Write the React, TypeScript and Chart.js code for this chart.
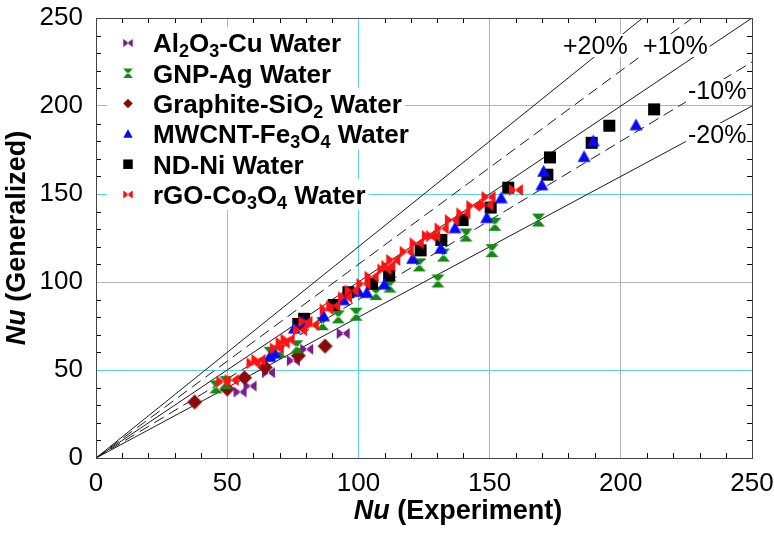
import { useEffect, useRef } from 'react';
import { Chart, registerables } from 'chart.js';

Chart.register(...registerables);

const FONT = '"Liberation Sans", Arial, Helvetica, sans-serif';

// Nu from experiment (x) and from the generalized correlation (y), per nanofluid
const al2o3CuExp = [54.9, 58.7, 65.7, 75.2, 80.3, 94.2];
const al2o3CuGen = [37.5, 40.9, 48.5, 55.3, 61.8, 70.8];

const gnpAgExp = [45.7, 49.5, 66.3, 70.1, 76.5, 86.3, 92.3, 99.1, 106.7, 112.0, 123.2, 130.3, 132.4, 141.0, 150.9, 152.0, 168.6];
const gnpAgGen = [40.4, 42.8, 59.5, 60.6, 63.2, 76.3, 80.2, 81.7, 93.4, 97.7, 109.7, 100.6, 115.3, 126.7, 117.8, 132.8, 135.2];

const graphiteSiO2Exp = [37.6, 50.0, 56.6, 64.5, 77.1, 87.3];
const graphiteSiO2Gen = [31.8, 39.2, 45.6, 51.5, 58.1, 63.6];

const mwcntFe3O4Exp = [66.3, 68.2, 75.6, 78.8, 86.7, 94.3, 100.0, 103.2, 109.9, 120.7, 131.4, 136.8, 148.9, 154.4, 169.9, 170.6, 186.0, 189.5, 205.8];
const mwcntFe3O4Gen = [57.6, 59.5, 73.7, 77.4, 80.7, 89.8, 94.5, 93.9, 98.7, 113.3, 119.1, 130.7, 136.5, 147.7, 155.1, 162.8, 171.2, 180.1, 189.2];

const ndNiExp = [77.1, 79.3, 90.6, 96.2, 105.2, 111.7, 123.7, 131.6, 139.7, 150.4, 157.1, 172.0, 173.0, 188.9, 195.6, 212.7];
const ndNiGen = [76.2, 79.1, 87.0, 94.2, 99.0, 103.7, 118.0, 123.9, 135.2, 142.3, 153.6, 161.0, 170.8, 179.1, 188.8, 198.1];

const rgoCo3O4Exp = [48.5, 51.7, 60.0, 61.9, 68.9, 71.1, 73.0, 77.7, 79.8, 82.2, 87.9, 90.4, 94.9, 97.4, 101.9, 105.0, 109.9, 111.4, 113.3, 118.4, 122.2, 126.9, 128.5, 131.7, 135.6, 140.0, 143.8, 148.7, 149.6, 160.0];
const rgoCo3O4Gen = [43.4, 44.3, 53.8, 55.7, 62.3, 65.5, 67.4, 72.7, 77.5, 75.6, 84.5, 86.4, 91.3, 95.1, 98.9, 103.0, 107.2, 109.1, 112.5, 117.2, 122.0, 126.1, 126.1, 130.5, 135.2, 139.0, 143.2, 143.8, 148.3, 152.3];

// "_d" marks a subscript digit
const seriesNames = [
  'Al_2O_3-Cu Water',
  'GNP-Ag Water',
  'Graphite-SiO_2 Water',
  'MWCNT-Fe_3O_4 Water',
  'ND-Ni Water',
  'rGO-Co_3O_4 Water',
];
const seriesX = [al2o3CuExp, gnpAgExp, graphiteSiO2Exp, mwcntFe3O4Exp, ndNiExp, rgoCo3O4Exp];
const seriesY = [al2o3CuGen, gnpAgGen, graphiteSiO2Gen, mwcntFe3O4Gen, ndNiGen, rgoCo3O4Gen];

// deviation bands: y = k * x
const bandSlopes = [1.2, 1.1, 1.0, 0.9, 0.8];
const bandDashed = [false, true, false, true, false];
const bandLabels = ['+20%', '+10%', '-10%', '-20%'];

const axisTicks = [0, 50, 100, 150, 200, 250];
const minorStep = 10;

const AXIS_MAX = 250;

type Shape = 'bowtie' | 'hourglass' | 'diamond' | 'triangle' | 'square';

const STYLE: { color: string; shape: Shape; size: number; order: number }[] = [
  { color: '#7a1d8c', shape: 'bowtie', size: 13, order: 6 },
  { color: '#138a13', shape: 'hourglass', size: 13, order: 4 },
  { color: '#880a0a', shape: 'diamond', size: 15, order: 5 },
  { color: '#0a0af2', shape: 'triangle', size: 13, order: 2 },
  { color: '#000000', shape: 'square', size: 12, order: 3 },
  { color: '#ff1212', shape: 'bowtie', size: 14, order: 1 },
];

function traceShape(ctx: CanvasRenderingContext2D, shape: Shape, cx: number, cy: number, s: number) {
  const h = s / 2;
  ctx.beginPath();
  switch (shape) {
    case 'bowtie':
      ctx.moveTo(cx - h, cy - h * 0.85);
      ctx.lineTo(cx + 1, cy);
      ctx.lineTo(cx - h, cy + h * 0.85);
      ctx.closePath();
      ctx.moveTo(cx + h, cy - h * 0.85);
      ctx.lineTo(cx - 1, cy);
      ctx.lineTo(cx + h, cy + h * 0.85);
      ctx.closePath();
      break;
    case 'hourglass':
      ctx.moveTo(cx - h, cy - h);
      ctx.lineTo(cx + h, cy - h);
      ctx.lineTo(cx, cy + 1);
      ctx.closePath();
      ctx.moveTo(cx - h, cy + h);
      ctx.lineTo(cx + h, cy + h);
      ctx.lineTo(cx, cy - 1);
      ctx.closePath();
      break;
    case 'diamond':
      ctx.moveTo(cx, cy - h);
      ctx.lineTo(cx + h, cy);
      ctx.lineTo(cx, cy + h);
      ctx.lineTo(cx - h, cy);
      ctx.closePath();
      break;
    case 'triangle':
      ctx.moveTo(cx, cy - h);
      ctx.lineTo(cx + h, cy + h * 0.8);
      ctx.lineTo(cx - h, cy + h * 0.8);
      ctx.closePath();
      break;
    case 'square':
      ctx.rect(cx - h, cy - h, s, s);
      break;
  }
}

function makeMarker(shape: Shape, color: string, s: number): HTMLCanvasElement {
  const c = document.createElement('canvas');
  const dim = Math.ceil(s) + 2;
  c.width = dim;
  c.height = dim;
  const ctx = c.getContext('2d')!;
  ctx.fillStyle = color;
  traceShape(ctx, shape, dim / 2, dim / 2, s);
  ctx.fill();
  return c;
}

type Run = { t: string; sub: boolean };
function parseRuns(label: string): Run[] {
  const runs: Run[] = [];
  const re = /_(\d)/g;
  let last = 0;
  let m: RegExpExecArray | null;
  while ((m = re.exec(label))) {
    if (m.index > last) runs.push({ t: label.slice(last, m.index), sub: false });
    runs.push({ t: m[1], sub: true });
    last = re.lastIndex;
  }
  if (last < label.length) runs.push({ t: label.slice(last), sub: false });
  return runs;
}

const CYAN = '#5ad3dc';
const GRAY = '#b4b4b4';

function gridColorX(v: number) {
  if (v === 50 || v === 100 || v === 150) return CYAN;
  if (v === 200) return GRAY;
  return 'rgba(0,0,0,0)';
}
function gridColorY(v: number) {
  if (v === 50 || v === 150 || v === 200) return CYAN;
  if (v === 100) return GRAY;
  return 'rgba(0,0,0,0)';
}

const LEGEND_FONT = `bold 26px ${FONT}`;
const LEGEND_SUB_FONT = `bold 18px ${FONT}`;

const decorPlugin = {
  id: 'decor',
  beforeDatasetsDraw(chart: any) {
    const ctx: CanvasRenderingContext2D = chart.ctx;
    const rowY0 = 43;
    const rowGap = 30.3;
    const textX = 153;
    const markX = 128;
    ctx.save();
    seriesNames.forEach((name, i) => {
      const cy = rowY0 + i * rowGap;
      const runs = parseRuns(name);
      let w = 0;
      runs.forEach((r) => {
        ctx.font = r.sub ? LEGEND_SUB_FONT : LEGEND_FONT;
        w += ctx.measureText(r.t).width;
      });
      ctx.fillStyle = '#ffffff';
      ctx.fillRect(107, cy - 15.5, textX + w + 3 - 107, 31);
      const st = STYLE[i];
      ctx.fillStyle = st.color;
      traceShape(ctx, st.shape, markX, cy, 9.5);
      ctx.fill();
      ctx.fillStyle = '#000';
      ctx.textAlign = 'left';
      ctx.textBaseline = 'alphabetic';
      let x = textX;
      const base = cy + 9.3;
      runs.forEach((r) => {
        ctx.font = r.sub ? LEGEND_SUB_FONT : LEGEND_FONT;
        ctx.fillText(r.t, x, r.sub ? base + 5 : base);
        x += ctx.measureText(r.t).width;
      });
    });
    ctx.restore();
  },
  afterDatasetsDraw(chart: any) {
    const ctx: CanvasRenderingContext2D = chart.ctx;
    const { left, right, top, bottom } = chart.chartArea;
    const xs = chart.scales.x;
    const ys = chart.scales.y;
    ctx.save();
    // band labels
    ctx.font = `25px ${FONT}`;
    ctx.textBaseline = 'alphabetic';
    ctx.textAlign = 'left';
    const labelPos = [
      [563, 54],
      [643, 54],
      [688, 99],
      [688, 143],
    ];
    bandLabels.forEach((t, i) => {
      const [lx, ly] = labelPos[i];
      const w = ctx.measureText(t).width;
      ctx.fillStyle = '#fff';
      ctx.fillRect(lx - 2, ly - 20, w + 4, 23);
      ctx.fillStyle = '#000';
      ctx.fillText(t, lx, ly);
    });
    // minor ticks pointing inward on all four sides
    ctx.strokeStyle = '#000';
    ctx.lineWidth = 1;
    ctx.beginPath();
    const len = 5;
    for (let v = minorStep; v < AXIS_MAX; v += minorStep) {
      if (v % 50 === 0) continue;
      const px = Math.round(xs.getPixelForValue(v)) + 0.5;
      ctx.moveTo(px, bottom);
      ctx.lineTo(px, bottom - len);
      ctx.moveTo(px, top);
      ctx.lineTo(px, top + len);
      const py = Math.round(ys.getPixelForValue(v)) + 0.5;
      ctx.moveTo(left, py);
      ctx.lineTo(left + len, py);
      ctx.moveTo(right, py);
      ctx.lineTo(right - len, py);
    }
    ctx.stroke();
    // plot frame
    ctx.strokeStyle = '#444';
    ctx.strokeRect(Math.round(left) + 0.5, Math.round(top) + 0.5, Math.round(right - left), Math.round(bottom - top));
    ctx.restore();
  },
  afterDraw(chart: any) {
    const ctx: CanvasRenderingContext2D = chart.ctx;
    const drawRuns = (runs: { t: string; f: string }[], cx: number, cy: number) => {
      let w = 0;
      runs.forEach((r) => {
        ctx.font = r.f;
        w += ctx.measureText(r.t).width;
      });
      let x = cx - w / 2;
      runs.forEach((r) => {
        ctx.font = r.f;
        ctx.fillText(r.t, x, cy);
        x += ctx.measureText(r.t).width;
      });
    };
    ctx.save();
    ctx.fillStyle = '#000';
    ctx.textAlign = 'left';
    ctx.textBaseline = 'middle';
    const bi = `italic bold 27px ${FONT}`;
    const b = `bold 27px ${FONT}`;
    drawRuns(
      [
        { t: 'Nu', f: bi },
        { t: ' (Experiment)', f: b },
      ],
      458,
      512
    );
    ctx.translate(18, 238);
    ctx.rotate(-Math.PI / 2);
    drawRuns(
      [
        { t: 'Nu', f: bi },
        { t: ' (Generalized)', f: b },
      ],
      0,
      0
    );
    ctx.restore();
  },
};

export default function App() {
  const ref = useRef<HTMLCanvasElement | null>(null);

  useEffect(() => {
    const canvas = ref.current;
    if (!canvas) return;

    const bandSets = bandSlopes.map((k, i) => ({
      type: 'line' as const,
      data: [
        { x: 0, y: 0 },
        { x: AXIS_MAX, y: AXIS_MAX * k },
      ],
      borderColor: '#1a1a1a',
      borderWidth: 1,
      borderDash: bandDashed[i] ? [11, 6] : [],
      pointRadius: 0,
      showLine: true,
      fill: false,
      order: 20,
    }));

    const pointSets = seriesNames.map((name, i) => {
      const st = STYLE[i];
      return {
        type: 'scatter' as const,
        label: name.replace(/_/g, ''),
        data: seriesX[i].map((x, j) => ({ x, y: seriesY[i][j] })),
        pointStyle: makeMarker(st.shape, st.color, st.size),
        pointRadius: st.size / 2,
        backgroundColor: st.color,
        borderColor: st.color,
        order: st.order,
      };
    });

    const tickFont = { family: FONT, size: 26 };

    const chart = new Chart(canvas, {
      type: 'scatter',
      data: { datasets: [...bandSets, ...pointSets] as any },
      options: {
        animation: false,
        responsive: false,
        devicePixelRatio: 1,
        events: [],
        layout: { padding: { left: 0, top: 18, right: 22, bottom: 0 } },
        plugins: { legend: { display: false }, tooltip: { enabled: false } },
        scales: {
          x: {
            type: 'linear',
            min: 0,
            max: AXIS_MAX,
            afterBuildTicks: (s: any) => {
              s.ticks = axisTicks.map((v) => ({ value: v }));
            },
            afterFit: (s: any) => {
              s.height = 75;
              s.paddingLeft = 0;
              s.paddingRight = 0;
            },
            grid: {
              color: (c: any) => gridColorX(c.tick?.value),
              drawTicks: false,
              lineWidth: 1,
            },
            border: { display: false },
            ticks: { font: tickFont, color: '#000', padding: 10, maxRotation: 0, autoSkip: false },
          },
          y: {
            type: 'linear',
            min: 0,
            max: AXIS_MAX,
            afterBuildTicks: (s: any) => {
              s.ticks = axisTicks.map((v) => ({ value: v }));
            },
            afterFit: (s: any) => {
              s.width = 96;
              s.paddingTop = 0;
              s.paddingBottom = 0;
            },
            grid: {
              color: (c: any) => gridColorY(c.tick?.value),
              drawTicks: false,
              lineWidth: 1,
            },
            border: { display: false },
            ticks: { font: tickFont, color: '#000', padding: 13, autoSkip: false },
          },
        },
      } as any,
      plugins: [decorPlugin],
    });

    return () => chart.destroy();
  }, []);

  return (
    <div style={{ position: 'fixed', left: 0, top: 0, width: 774, height: 533, background: '#fff' }}>
      <canvas ref={ref} width={774} height={533} style={{ display: 'block', width: 774, height: 533 }} />
    </div>
  );
}
